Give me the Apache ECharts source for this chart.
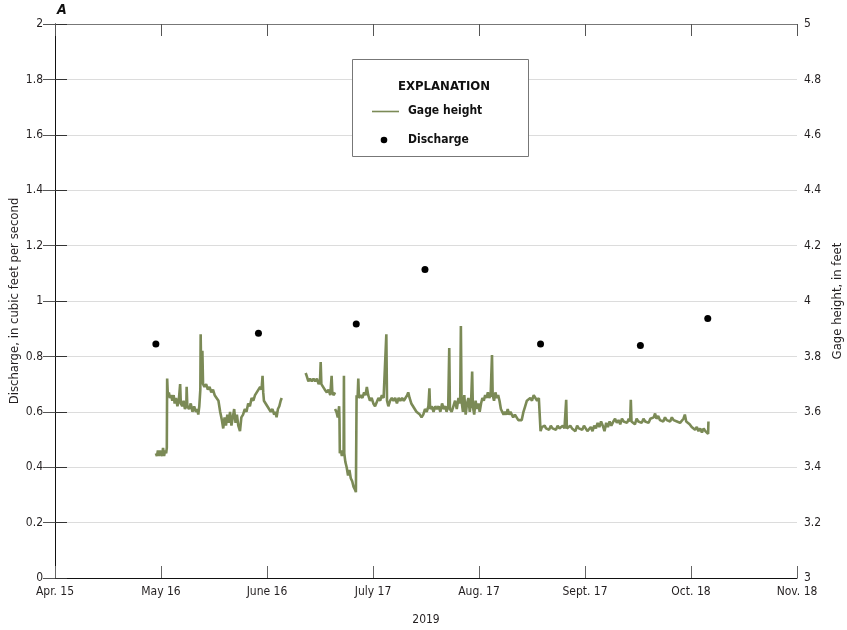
<!DOCTYPE html>
<html>
<head>
<meta charset="utf-8">
<title>Discharge and gage height, 2019</title>
<script src="https://cdn.jsdelivr.net/npm/echarts@6/dist/echarts.min.js"></script>
<style>
  html, body { margin: 0; padding: 0; background: #fff; }
  #chart { width: 847px; height: 630px; }
</style>
</head>
<body>
<div id="chart"></div>
<script>
// x positions are days after Apr. 15, 2019
const tickLabels = ["Apr. 15", "May 16", "June 16", "July 17", "Aug. 17", "Sept. 17", "Oct. 18", "Nov. 18"];

// discharge measurements, cubic feet per second
const dischargeDays = [29.5, 59.5, 88.1, 108.2, 142.0, 171.2, 190.9];
const dischargeCfs = [0.845, 0.884, 0.917, 1.114, 0.845, 0.839, 0.937];

// gage height record, feet (null = gap in record)
const gageDays = [
  29.5, 29.8, 30.1, 30.4, 30.7, 31.0, 31.3, 31.6, 31.9, 32.2, 32.5, 32.7,
  32.8, 33.0, 33.3, 33.6, 34.0, 34.3, 34.7, 35.0, 35.4, 35.8, 36.2, 36.6, 36.8,
  37.2, 37.6, 38.0, 38.4, 38.5, 38.7, 39.2, 39.7, 40.2, 40.7, 41.2, 41.6, 41.9,
  42.2, 42.5, 42.6, 42.8, 43.1, 43.3, 43.7, 44.2, 44.7, 45.2, 45.7, 46.2, 46.7,
  47.2, 47.8, 48.3, 48.8, 49.2, 49.6, 50.0, 50.4, 50.8, 51.2, 51.6, 52.0, 52.4,
  52.8, 53.2, 53.6, 54.1, 54.5, 55.0, 55.5, 56.0, 56.5, 57.0, 57.5, 58.0, 58.5,
  59.0, 59.5, 60.0, 60.4, 60.7, 60.9, 61.1, 61.6, 62.1, 62.6, 63.1, 63.6, 64.1,
  64.5, 64.8, 65.2, 65.6, 66.0, 66.3,
  69.0,
  73.3, 73.6, 74.1, 74.6, 75.1, 75.6, 76.1, 76.6, 77.1, 77.5, 77.7, 77.9, 78.4,
  78.9, 79.5, 80.0, 80.5, 80.9, 81.1, 81.5, 81.9,
  81.9,
  81.9, 82.3, 82.7, 83.1, 83.2, 83.3, 83.6, 83.9, 84.2, 84.4, 84.5, 84.6, 84.9,
  85.3, 85.7, 86.1, 86.5, 86.9, 87.3, 87.7, 88.0, 88.2, 88.5, 88.7, 88.9, 89.4,
  89.9, 90.4, 90.8, 91.2, 91.6, 92.1, 92.6, 93.1, 93.6, 94.1, 94.6, 95.1, 95.6,
  96.1, 96.6, 96.9, 97.1, 97.5, 98.0, 98.5, 99.0, 99.5, 100.0, 100.5, 101.0,
  101.5, 102.0, 102.5, 103.0, 103.3, 103.7, 104.2, 104.7, 105.2, 105.7, 106.2,
  106.7, 107.2, 107.7, 108.2, 108.7, 109.2, 109.5, 109.7, 110.2, 110.7, 111.2,
  111.7, 112.2, 112.7, 113.2, 113.7, 114.2, 114.5, 115.0, 115.3, 115.5, 116.0,
  116.5, 117.0, 117.5, 118.0, 118.5, 118.7, 118.9, 119.3, 119.7, 120.1, 120.5,
  120.9, 121.3, 121.7, 122.0, 122.2, 122.6, 123.0, 123.4, 123.8, 124.2, 124.6,
  125.0, 125.4, 125.8, 126.2, 126.6, 127.0, 127.4, 127.8, 128.0, 128.4, 128.8,
  129.2, 129.6, 130.0, 130.4, 130.8, 131.2, 131.6, 132.0, 132.4, 132.8, 133.2,
  133.6, 134.0, 134.5, 135.0, 135.5, 136.0, 136.5, 137.0, 137.5, 138.0, 138.5,
  139.0, 139.5, 140.0, 140.5, 141.0, 141.5, 141.8, 142.0, 142.4, 142.8, 143.2,
  143.6, 144.0, 144.5, 145.0, 145.5, 146.0, 146.5, 147.0, 147.5, 148.0, 148.5,
  149.0, 149.5, 149.7, 150.2, 150.7, 151.2, 151.7, 152.2, 152.7, 153.2, 153.7,
  154.2, 154.7, 155.2, 155.7, 156.2, 156.7, 157.2, 157.7, 158.2, 158.7, 159.2,
  159.7, 160.2, 160.7, 161.2, 161.7, 162.2, 162.7, 163.3, 163.8, 164.3, 164.8,
  165.3, 165.8, 166.3, 166.8, 167.3, 167.8, 168.2, 168.4, 168.6, 169.1, 169.6,
  170.1, 170.6, 171.1, 171.6, 172.1, 172.6, 173.1, 173.6, 174.1, 174.6, 175.1,
  175.5, 175.9, 176.4, 176.9, 177.4, 177.9, 178.4, 178.9, 179.4, 179.9, 180.4,
  180.9, 181.4, 181.9, 182.4, 182.8, 183.3, 183.8, 184.2, 184.6, 185.1, 185.6,
  186.2, 186.7, 187.2, 187.7, 188.2, 188.7, 189.2, 189.7, 190.2, 190.7, 191.0, 191.1
];
const gageFeet = [
  3.45, 3.44, 3.46, 3.44, 3.46, 3.45, 3.44, 3.47, 3.44, 3.46, 3.45, 3.47,
  3.72, 3.66, 3.67, 3.65, 3.66, 3.64, 3.66, 3.63, 3.65, 3.62, 3.64, 3.70, 3.63,
  3.62, 3.64, 3.61, 3.62, 3.69, 3.62, 3.61, 3.63, 3.60, 3.62, 3.60, 3.61, 3.59,
  3.62, 3.68, 3.88, 3.70, 3.82, 3.70, 3.69, 3.70, 3.68, 3.69, 3.67, 3.68, 3.66,
  3.66, 3.64, 3.60, 3.57, 3.54, 3.58, 3.55, 3.59, 3.56, 3.60, 3.55, 3.58, 3.61,
  3.56, 3.59, 3.55, 3.53, 3.58, 3.59, 3.61, 3.60, 3.63, 3.62, 3.65, 3.64, 3.66,
  3.67, 3.68, 3.69, 3.68, 3.73, 3.67, 3.64, 3.63, 3.62, 3.61, 3.60, 3.61, 3.59,
  3.60, 3.58, 3.61, 3.62, 3.64, 3.65,
  null,
  3.74, 3.73, 3.71, 3.72, 3.71, 3.72, 3.71, 3.72, 3.70, 3.71, 3.78, 3.70, 3.69,
  3.68, 3.67, 3.68, 3.66, 3.73, 3.67, 3.66, 3.67,
  null,
  3.61, 3.60, 3.58, 3.62, 3.57, 3.45, 3.46, 3.44, 3.46, 3.45, 3.73, 3.45, 3.42,
  3.40, 3.37, 3.39, 3.36, 3.35, 3.33, 3.32, 3.31, 3.66, 3.65, 3.72, 3.65, 3.66,
  3.65, 3.67, 3.66, 3.69, 3.66, 3.64, 3.65, 3.63, 3.62, 3.62, 3.65, 3.64, 3.66,
  3.65, 3.65, 3.88, 3.64, 3.62, 3.64, 3.65, 3.64, 3.65, 3.63, 3.65, 3.64,
  3.65, 3.64, 3.65, 3.66, 3.67, 3.65, 3.63, 3.62, 3.61, 3.60, 3.60,
  3.59, 3.58, 3.59, 3.61, 3.60, 3.62, 3.685, 3.61, 3.62, 3.60, 3.62,
  3.61, 3.62, 3.60, 3.63, 3.61, 3.62, 3.60, 3.62, 3.83, 3.61, 3.60,
  3.62, 3.64, 3.61, 3.65, 3.63, 3.91, 3.64, 3.60, 3.66, 3.59, 3.63,
  3.65, 3.60, 3.64, 3.745, 3.62, 3.59, 3.64, 3.61, 3.63, 3.60, 3.63,
  3.65, 3.64, 3.66, 3.65, 3.67, 3.65, 3.66, 3.805, 3.66, 3.64, 3.67,
  3.65, 3.66, 3.64, 3.61, 3.60, 3.59, 3.60, 3.59, 3.61, 3.59, 3.60,
  3.59, 3.58, 3.59, 3.58, 3.57, 3.575, 3.57, 3.60, 3.62, 3.64, 3.645,
  3.65, 3.64, 3.66, 3.65, 3.64, 3.65, 3.645, 3.53, 3.545, 3.54, 3.55,
  3.54, 3.545, 3.535, 3.55, 3.54, 3.545, 3.535, 3.55, 3.54, 3.545, 3.55,
  3.54, 3.643, 3.54, 3.535, 3.55, 3.54, 3.545, 3.53, 3.55, 3.54, 3.545,
  3.535, 3.55, 3.54, 3.53, 3.525, 3.545, 3.53, 3.55, 3.54, 3.56, 3.545,
  3.565, 3.55, 3.53, 3.56, 3.545, 3.565, 3.55, 3.565, 3.575, 3.56, 3.57,
  3.555, 3.575, 3.565, 3.57, 3.56, 3.575, 3.565, 3.643, 3.565, 3.57, 3.555,
  3.575, 3.565, 3.57, 3.56, 3.575, 3.565, 3.57, 3.56, 3.575, 3.57, 3.58,
  3.594, 3.575, 3.585, 3.57, 3.575, 3.565, 3.58, 3.57, 3.575, 3.565, 3.58,
  3.57, 3.575, 3.565, 3.57, 3.56, 3.565, 3.575, 3.59, 3.565, 3.57, 3.555,
  3.545, 3.55, 3.535, 3.545, 3.53, 3.54, 3.525, 3.54, 3.53, 3.525, 3.52, 3.565
];

const FONT = "'DejaVu Sans Condensed', 'Liberation Sans Narrow', sans-serif";
const GAGE_COLOR = "#7b8a56";
const TEXT_COLOR = "#231f20";

const chart = echarts.init(document.getElementById("chart"));

const gageData = gageDays.map((d, i) => [d, gageFeet[i] === null ? "-" : gageFeet[i]]);
const dischargeData = dischargeDays.map((d, i) => [d, dischargeCfs[i]]);

const numLabel = (v) => String(+v.toFixed(1));

const option = {
  animation: false,
  backgroundColor: "#fff",
  textStyle: { fontFamily: FONT },
  grid: { left: 55, right: 50, top: 24, bottom: 52, containLabel: false, outerBoundsMode: "none" },
  xAxis: [
    {
      type: "value",
      position: "bottom",
      min: 0,
      max: 217,
      interval: 31,
      axisLine: { show: true, lineStyle: { color: "#111", width: 1 } },
      axisTick: { show: true, inside: true, length: 12, lineStyle: { color: "#666" } },
      axisLabel: {
        margin: 8,
        fontSize: 12,
        color: TEXT_COLOR,
        fontFamily: FONT,
        formatter: (v) => tickLabels[Math.round(v / 31)] || ""
      },
      splitLine: { show: false },
      name: "2019",
      nameLocation: "middle",
      nameGap: 36,
      nameTextStyle: { fontSize: 12, color: TEXT_COLOR, fontFamily: FONT }
    },
    {
      type: "value",
      position: "top",
      min: 0,
      max: 217,
      interval: 31,
      axisLine: { show: true, lineStyle: { color: "#777", width: 1 } },
      axisTick: { show: true, inside: true, length: 12, lineStyle: { color: "#555" } },
      axisLabel: { show: false },
      splitLine: { show: false }
    }
  ],
  yAxis: [
    {
      type: "value",
      position: "left",
      min: 0,
      max: 2,
      interval: 0.2,
      axisLine: { show: true, lineStyle: { color: "#777", width: 1 } },
      axisTick: { show: true, inside: true, length: 12, lineStyle: { color: "#333" } },
      axisLabel: { margin: 12, fontSize: 12, color: TEXT_COLOR, fontFamily: FONT, formatter: numLabel },
      splitLine: { show: true, lineStyle: { color: "#dcdcdc", width: 1 } },
      name: "Discharge, in cubic feet per second",
      nameLocation: "middle",
      nameGap: 34,
      nameMoveOverlap: false,
      nameRotate: 90,
      nameTextStyle: { fontSize: 13, color: TEXT_COLOR, fontFamily: FONT }
    },
    {
      type: "value",
      position: "right",
      min: 3,
      max: 5,
      interval: 0.2,
      axisLine: { show: true, lineStyle: { color: "#111", width: 1 } },
      axisTick: { show: true, inside: true, length: 12, lineStyle: { color: "#555" } },
      axisLabel: { margin: 7, fontSize: 12, color: TEXT_COLOR, fontFamily: FONT, formatter: numLabel },
      splitLine: { show: false },
      name: "Gage height, in feet",
      nameLocation: "middle",
      nameGap: 34,
      nameMoveOverlap: false,
      nameRotate: 90,
      nameTextStyle: { fontSize: 13, color: TEXT_COLOR, fontFamily: FONT }
    }
  ],
  series: [
    {
      name: "Gage height",
      type: "line",
      xAxisIndex: 0,
      yAxisIndex: 1,
      data: gageData,
      showSymbol: false,
      symbol: "none",
      connectNulls: false,
      lineStyle: { color: GAGE_COLOR, width: 2.6 },
      z: 2
    },
    {
      name: "Discharge",
      type: "scatter",
      xAxisIndex: 0,
      yAxisIndex: 0,
      data: dischargeData,
      symbol: "circle",
      symbolSize: 7,
      itemStyle: { color: "#000", opacity: 1 },
      z: 3
    }
  ],
  graphic: [
    {
      type: "text",
      style: { x: 57, y: 10, text: "A", font: "italic bold 14px " + FONT, fill: "#111", textVerticalAlign: "middle" }
    },
    {
      type: "rect",
      z: 10,
      shape: { x: 352.5, y: 59.5, width: 176, height: 97 },
      style: { fill: "#fff", stroke: "#777", lineWidth: 1 }
    },
    {
      type: "text",
      z: 11,
      style: { x: 444, y: 87, text: "EXPLANATION", font: "bold 13px " + FONT, fill: "#111", textAlign: "center", textVerticalAlign: "middle" }
    },
    {
      type: "line",
      z: 11,
      shape: { x1: 372, y1: 111.5, x2: 399, y2: 111.5 },
      style: { stroke: GAGE_COLOR, lineWidth: 1.6 }
    },
    {
      type: "text",
      z: 11,
      style: { x: 408, y: 111, text: "Gage height", font: "bold 12px " + FONT, fill: "#111", textVerticalAlign: "middle" }
    },
    {
      type: "circle",
      z: 11,
      shape: { cx: 384, cy: 140, r: 3.3 },
      style: { fill: "#000" }
    },
    {
      type: "text",
      z: 11,
      style: { x: 408, y: 140, text: "Discharge", font: "bold 12px " + FONT, fill: "#111", textVerticalAlign: "middle" }
    }
  ]
};

chart.setOption(option);
</script>
</body>
</html>
